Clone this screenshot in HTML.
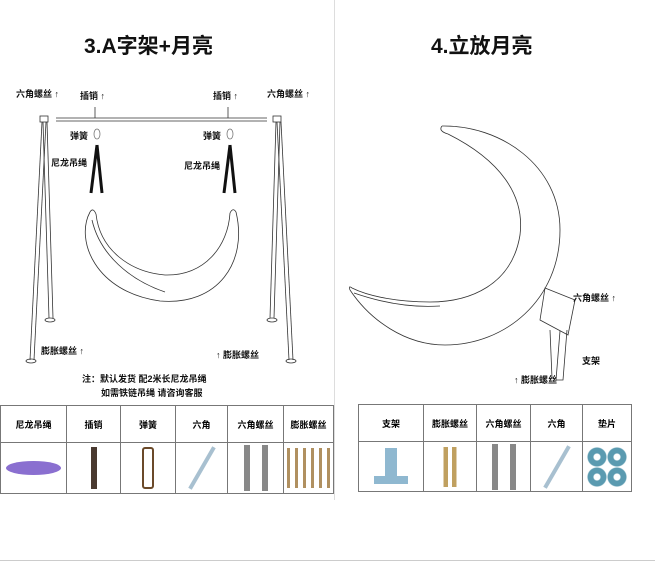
<!DOCTYPE html>
<html><head><meta charset="utf-8"><style>
body{margin:0;width:655px;height:569px;background:#fff;overflow:hidden;position:relative;font-family:"Liberation Sans","Noto Sans CJK SC",sans-serif}
.t{position:absolute;font-weight:bold;color:#111;white-space:nowrap}
table{position:absolute;border-collapse:collapse;font-size:9px;font-weight:bold;font-family:"Liberation Sans","Noto Sans CJK SC",sans-serif}
td{border:1px solid #777;text-align:center;padding:0}
</style></head><body>
<div style="position:absolute;left:334px;top:0;width:1px;height:500px;background:#ddd"></div>
<div style="position:absolute;left:0;top:560px;width:655px;height:1px;background:#ccc"></div>
<div class="t" style="left:84px;top:30px;font-size:21px">3.A字架+月亮</div>
<div class="t" style="left:431px;top:30px;font-size:21px">4.立放月亮</div>

<svg width="655" height="569" style="position:absolute;left:0;top:0" fill="none" stroke="#333" stroke-width="0.8">
<rect x="40" y="116" width="8" height="6"/>
<line x1="42" y1="122" x2="30" y2="360"/><line x1="46" y1="122" x2="34" y2="360"/>
<line x1="43" y1="122" x2="49" y2="318"/><line x1="47" y1="122" x2="53" y2="318"/>
<line x1="56" y1="118" x2="267" y2="118"/><line x1="56" y1="121" x2="267" y2="121"/>
<rect x="273" y="116" width="8" height="6"/>
<line x1="277" y1="122" x2="289" y2="360"/><line x1="281" y1="122" x2="293" y2="360"/>
<line x1="276" y1="122" x2="270" y2="318"/><line x1="280" y1="122" x2="274" y2="318"/>
<ellipse cx="50" cy="320" rx="5" ry="2"/><ellipse cx="31" cy="361" rx="5" ry="2"/>
<ellipse cx="272" cy="320" rx="5" ry="2"/><ellipse cx="291" cy="361" rx="5" ry="2"/>
<path d="M97 145 L91 193 M97 145 L102 193" stroke="#111" stroke-width="3"/>
<path d="M230 145 L224 193 M230 145 L235 193" stroke="#111" stroke-width="3"/>
<ellipse cx="97" cy="134" rx="3" ry="5" stroke="#777"/><ellipse cx="230" cy="134" rx="3" ry="5" stroke="#777"/>
<line x1="95" y1="107" x2="95" y2="118"/><line x1="228" y1="107" x2="228" y2="118"/>
<!-- hanging moon -->
<path d="M90 212 C75 240 95 292 160 301 C218 306 248 262 236 212"/>
<path d="M96 214 C100 250 130 272 165 275 C205 276 228 246 230 213"/>
<path d="M90 212 Q93 207 96 214 M230 213 Q233 207 236 212"/>
<path d="M92 220 C100 255 130 280 165 292"/>
<!-- standing moon -->
<path d="M442 126 C500 125 560 165 560 230 C560 300 505 345 445 345 C405 345 370 320 350 290"/>
<path d="M448 134 C500 160 525 195 520 235 C512 285 470 302 430 302 C400 302 370 297 352 288"/>
<path d="M442 126 Q438 131 448 134 M350 290 Q348 285 352 288"/>
<path d="M354 293 C380 302 410 308 440 306"/>
<path d="M545 288 L575 300 L568 335 L540 320 Z"/>
<path d="M560 331 L556 380 L563 380 L567 330"/>
<line x1="550" y1="330" x2="552" y2="378"/>
</svg>
<div class="t" style="left:16px;top:87px;font-size:9px">六角螺丝 ↑</div>
<div class="t" style="left:80px;top:89px;font-size:9px">插销 ↑</div>
<div class="t" style="left:213px;top:89px;font-size:9px">插销 ↑</div>
<div class="t" style="left:267px;top:87px;font-size:9px">六角螺丝 ↑</div>
<div class="t" style="left:70px;top:129px;font-size:9px">弹簧</div>
<div class="t" style="left:203px;top:129px;font-size:9px">弹簧</div>
<div class="t" style="left:51px;top:156px;font-size:9px">尼龙吊绳</div>
<div class="t" style="left:184px;top:159px;font-size:9px">尼龙吊绳</div>
<div class="t" style="left:41px;top:344px;font-size:9px">膨胀螺丝 ↑</div>
<div class="t" style="left:216px;top:348px;font-size:9px">↑ 膨胀螺丝</div>
<div class="t" style="left:82px;top:372px;font-size:9px">注：默认发货 配2米长尼龙吊绳</div>
<div class="t" style="left:101px;top:386px;font-size:9px">如需铁链吊绳 请咨询客服</div>
<div class="t" style="left:573px;top:291px;font-size:9px">六角螺丝 ↑</div>
<div class="t" style="left:582px;top:354px;font-size:9px">支架</div>
<div class="t" style="left:514px;top:373px;font-size:9px">↑ 膨胀螺丝</div>

<table style="left:0;top:405px;width:334px;height:89px">
<tr style="height:37px"><td style="width:65px">尼龙吊绳</td><td style="width:53px">插销</td><td style="width:54px">弹簧</td><td style="width:51px">六角</td><td style="width:55px">六角螺丝</td><td>膨胀螺丝</td></tr>
<tr><td><div style="margin:auto;width:55px;height:14px;border-radius:50%;background:#8a6fd0"></div></td>
<td><div style="margin:auto;width:6px;height:42px;background:#4a3a30"></div></td>
<td><div style="margin:auto;width:8px;height:38px;border:2px solid #6b4a2a;border-radius:3px"></div></td>
<td><div style="margin:auto;width:4px;height:48px;background:#a8c0d0;transform:rotate(30deg)"></div></td>
<td><div style="margin:auto;width:30px;height:46px;background:linear-gradient(90deg,#fff 10%,#888 10% 30%,#fff 30% 70%,#888 70% 90%,#fff 90%)"></div></td>
<td><div style="margin:auto;width:44px;height:40px;background:repeating-linear-gradient(90deg,#b09060 0 3px,#fff 3px 8px)"></div></td></tr>
</table>
<table style="left:358px;top:404px;width:274px;height:88px">
<tr style="height:37px"><td style="width:64px">支架</td><td style="width:52px">膨胀螺丝</td><td style="width:53px">六角螺丝</td><td style="width:51px">六角</td><td>垫片</td></tr>
<tr><td><div style="margin:auto;width:34px;height:38px;position:relative"><div style="position:absolute;left:11px;top:0;width:12px;height:30px;background:#8fb8d0"></div><div style="position:absolute;left:0;top:28px;width:34px;height:8px;background:#8fb8d0"></div></div></td>
<td><div style="margin:auto;width:22px;height:40px;background:linear-gradient(90deg,#fff 20%,#c0a060 20% 40%,#fff 40% 60%,#c0a060 60% 80%,#fff 80%)"></div></td>
<td><div style="margin:auto;width:30px;height:46px;background:linear-gradient(90deg,#fff 10%,#888 10% 30%,#fff 30% 70%,#888 70% 90%,#fff 90%)"></div></td>
<td><div style="margin:auto;width:4px;height:48px;background:#a8c0d0;transform:rotate(30deg)"></div></td>
<td><div style="margin:auto;width:40px;height:40px;background:radial-gradient(circle,#fff 3px,#5a9ab0 4px 9px,transparent 10px) 0 0/20px 20px"></div></td></tr>
</table>
</body></html>
